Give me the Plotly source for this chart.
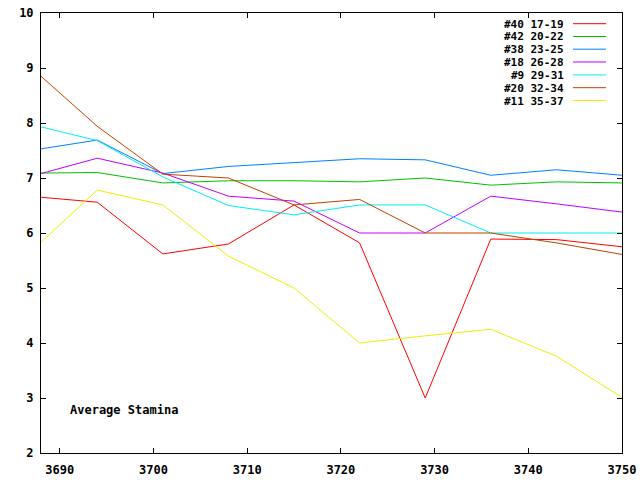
import plotly.graph_objects as go

x_vals = [3688, 3694, 3701, 3708, 3715, 3722, 3729, 3736, 3743, 3750]

series_names = ["#40 17-19", "#42 20-22", "#38 23-25", "#18 26-28",
                "#9 29-31", "#20 32-34", "#11 35-37"]
s40 = [6.65, 6.56, 5.62, 5.80, 6.51, 5.82, 3.00, 5.89, 5.88, 5.75]
s42 = [7.09, 7.10, 6.91, 6.95, 6.95, 6.93, 7.00, 6.87, 6.93, 6.91]
s38 = [7.53, 7.69, 7.08, 7.21, 7.28, 7.35, 7.33, 7.05, 7.15, 7.05]
s18 = [7.08, 7.36, 7.09, 6.67, 6.58, 6.00, 6.00, 6.67, 6.53, 6.38]
s9 = [7.93, 7.68, 7.02, 6.50, 6.33, 6.51, 6.51, 6.00, 6.00, 6.00]
s20 = [8.85, 7.94, 7.07, 7.00, 6.51, 6.61, 6.00, 6.00, 5.82, 5.61]
s11 = [5.83, 6.78, 6.51, 5.58, 5.00, 4.00, 4.13, 4.25, 3.76, 3.01]
series_values = [s40, s42, s38, s18, s9, s20, s11]
colors = ["#ff0000", "#00c000", "#0080ff", "#c000ff", "#00eeee", "#c04000", "#eeee00"]

x_ticks = [3690, 3700, 3710, 3720, 3730, 3740, 3750]
y_ticks = [2, 3, 4, 5, 6, 7, 8, 9, 10]

FONT = dict(family="DejaVu Sans Mono", size=12, color="black", weight="bold")
LEG_FONT = dict(family="DejaVu Sans Mono", size=11, color="black", weight="bold")

fig = go.Figure()
for name, vals, col in zip(series_names, series_values, colors):
    fig.add_trace(go.Scatter(x=x_vals, y=vals, mode="lines", name=name,
                             line=dict(color=col, width=1), showlegend=False))

# plot area in pixels: left 41, right 622, top 13.3, bottom 453.3
L, R, T, B = 41, 622, 13.3, 453.3
W, H = R - L, B - T

def px(xp):
    return (xp - L) / W

def py(yp):
    return 1 - (yp - T) / H

annotations = []
shapes = []
row_y = [24, 36.8, 49.5, 62.3, 75.2, 88.0, 100.8]
for name, col, yy in zip(series_names, colors, row_y):
    annotations.append(dict(x=px(566), y=py(yy), xref="paper", yref="paper",
                            text=name, showarrow=False, xanchor="right",
                            yanchor="middle", font=LEG_FONT, height=12))
    shapes.append(dict(type="line", xref="paper", yref="paper",
                       x0=px(573), x1=px(606), y0=py(yy), y1=py(yy),
                       line=dict(color=col, width=1)))

annotations.append(dict(x=px(68), y=py(410.5), xref="paper", yref="paper",
                        text="Average Stamina", showarrow=False, xanchor="left",
                        yanchor="middle", font=FONT))

axis_common = dict(showgrid=False, zeroline=False, showline=True, linecolor="black",
                   linewidth=1, mirror="ticks", ticks="inside", ticklen=5,
                   tickcolor="black", tickwidth=1, tickfont=FONT, automargin=False)

fig.update_layout(
    width=640, height=480,
    margin=dict(l=L, r=640 - R, t=T, b=480 - B, autoexpand=False),
    paper_bgcolor="white", plot_bgcolor="white",
    xaxis=dict(range=[3688, 3750], tickvals=x_ticks, ticktext=[str(v) for v in x_ticks],
               ticklabelstandoff=6, **axis_common),
    yaxis=dict(range=[2, 10], tickvals=y_ticks, ticktext=[str(v) for v in y_ticks],
               ticklabelstandoff=4, **axis_common),
    annotations=annotations, shapes=shapes, showlegend=False,
)

fig.write_html("out.html")
